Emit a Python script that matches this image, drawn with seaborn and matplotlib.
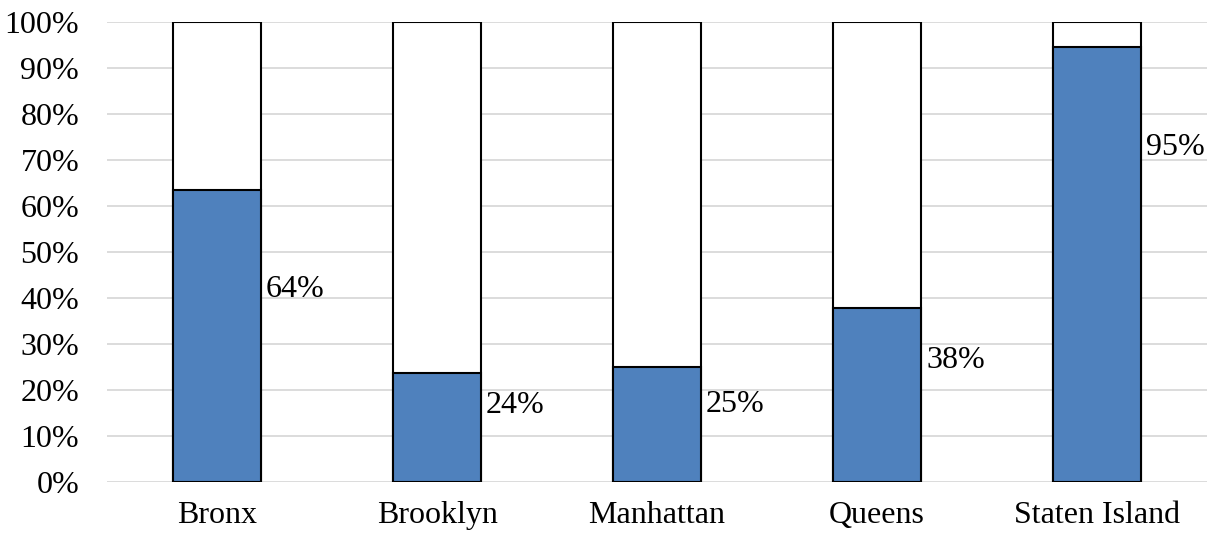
import matplotlib
matplotlib.use("Agg")
import matplotlib.pyplot as plt
import matplotlib.transforms as mtransforms
import seaborn as sns
import pandas as pd

boroughs = ["Bronx", "Brooklyn", "Manhattan", "Queens", "Staten Island"]
share = [63.4, 23.7, 24.9, 37.7, 94.6]
labels = ["64%", "24%", "25%", "38%", "95%"]
label_y = [40.2, 15.0, 15.2, 24.7, 71.0]
total = [100, 100, 100, 100, 100]
yticks = [0, 10, 20, 30, 40, 50, 60, 70, 80, 90, 100]

sns.set_theme(style="white")
plt.rcParams["font.family"] = ["Liberation Serif", "DejaVu Serif"]

df = pd.DataFrame({"borough": boroughs, "share": share, "total": total})

fig = plt.figure(figsize=(12.07, 5.38), dpi=100)
ax = fig.add_axes([107 / 1207, 56.3 / 538, 1100 / 1207, 460 / 538])

sns.barplot(data=df, x="borough", y="total", color="white", edgecolor="black",
            linewidth=1.5, width=0.4, saturation=1, ax=ax, zorder=3)
sns.barplot(data=df, x="borough", y="share", color="#4F81BD", edgecolor="black",
            linewidth=1.5, width=0.4, saturation=1, ax=ax, zorder=4)

offset = mtransforms.offset_copy(ax.transData, fig=fig, x=5, y=0, units="dots")
for i, (lab, ly) in enumerate(zip(labels, label_y)):
    ax.text(i + 0.2, ly, lab, ha="left", va="baseline", fontsize=23,
            color="black", zorder=5, transform=offset)

ax.set_xlim(-0.5, 4.5)
ax.set_ylim(0, 100)
ax.set_yticks(yticks)
ax.set_yticklabels([f"{v}%" for v in yticks])
ax.yaxis.grid(True, color="#d9d9d9", linewidth=1.3, zorder=0)
ax.set_axisbelow(True)
for s in ax.spines.values():
    s.set_visible(False)
ax.tick_params(axis="y", length=0, pad=20, labelsize=23, colors="black")
ax.tick_params(axis="x", length=0, pad=14, labelsize=23, colors="black")
ax.set_xlabel("")
ax.set_ylabel("")

fig.savefig("out.png", dpi=100)
